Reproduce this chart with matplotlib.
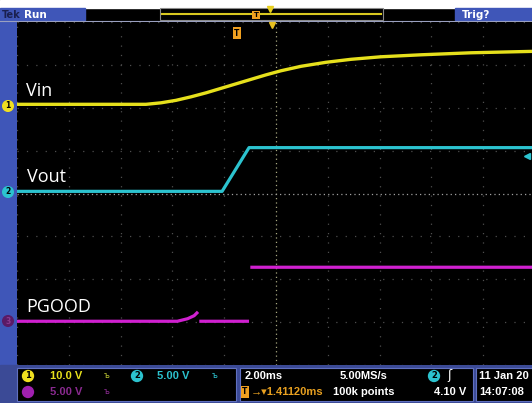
import numpy as np
import matplotlib.pyplot as plt
from matplotlib.patches import Rectangle

# time base / channel setup
t_center = 1.4112          # ms, horizontal delay
ms_per_div = 2.0
ch1_scale, ch1_pos = 10.0, 2.08   # V/div, divisions
ch2_scale, ch2_pos = 5.0, 0.05
ch3_scale, ch3_pos = 5.0, -2.98
trig_level = 4.10

# traces (time in ms, volts)
vin_t = [-8.6, -3.61, -3.03, -2.45, -1.87, -1.29, -0.71, -0.13, 0.45, 1.03, 1.60,
         2.38, 3.34, 4.31, 5.47, 7.01, 8.94, 11.45]
vin_v = [0.0, 0.0, 0.35, 0.93, 1.75, 2.68, 3.73, 4.78, 5.83, 6.88, 7.82,
         8.87, 9.8, 10.5, 11.09, 11.55, 12.02, 12.37]

vout_t = [-8.6, -0.67, 0.37, 11.5]
vout_v = [0.0, 0.0, 5.1, 5.1]

pg_t = [-8.6, -2.4, -2.0, -1.75, -1.6, np.nan, -1.55, 0.37, np.nan, 0.42, 11.5]
pg_v = [0.0, 0.0, 0.3, 0.65, 1.1, np.nan, 0.0, 0.0, np.nan, 6.3, 6.3]

W, H = 532, 403
fig = plt.figure(figsize=(W / 100, H / 100), dpi=100)
fig.patch.set_facecolor('black')

# background frame (pixel coordinates)
bg = fig.add_axes([0, 0, 1, 1], zorder=0)
bg.set_xlim(0, W)
bg.set_ylim(H, 0)
bg.axis('off')
blue = '#3f56b8'
frame = '#3b4a96'
bg.add_patch(Rectangle((0, 0), W, 8, color='white'))
bg.add_patch(Rectangle((0, 8), 85, 12, color=blue))
bg.add_patch(Rectangle((455, 8), 77, 12, color=blue))
bg.add_patch(Rectangle((160, 8), 223, 12, fc='black', ec='#8a8a8a', lw=0.8))
bg.add_patch(Rectangle((0, 20), 17, H - 20, color=blue))
bg.add_patch(Rectangle((0, 365), W, H - 365, color=frame))
bg.plot([0, W], [20.5, 20.5], color='#9aa0c0', lw=0.8)
for x0, x1 in [(17, 236), (240, 473), (476, 540)]:
    bg.add_patch(Rectangle((x0, 368), x1 - x0, 33, fc='black', ec='#6070c0', lw=0.8))
bg.plot([162, 381], [13.5, 13.5], color='#d8c820', lw=1.5)
bg.text(2, 14.5, 'Tek', color='#1a2050', fontsize=7, fontweight='bold', va='center')
bg.text(24, 14.5, 'Run', color='white', fontsize=7.5, fontweight='bold', va='center')
bg.text(462, 14.5, 'Trig?', color='white', fontsize=7.5, fontweight='bold', va='center')
bg.text(256, 15, 'T', color='black', fontsize=5, fontweight='bold', ha='center', va='center',
        bbox=dict(boxstyle='square,pad=0.15', fc='#f0a020', ec='none'))
bg.plot([270], [9], marker='v', color='#e8d020', ms=4)

# scope grid
rect = [17 / W, (H - 365) / H, (535 - 17) / W, (365 - 22) / H]
ax = fig.add_axes(rect, zorder=1)
ax.set_facecolor('black')
ax.set_xlim(t_center - 5 * ms_per_div, t_center + 5 * ms_per_div)
ax.set_ylim(-4, 4)
for k in range(-5, 6):
    if k != 0:
        ax.axvline(t_center + k * ms_per_div, color='#4e4e4e', lw=0.9, ls=(0, (1, 6.5)))
for k in range(-4, 5):
    if k != 0:
        ax.axhline(k, color='#4e4e4e', lw=0.9, ls=(0, (1, 6.5)))
ax.axvline(t_center, color='#a8a880', lw=0.9, ls=(0, (1, 2.5)))
ax.axhline(0, color='#a0a0a0', lw=0.9, ls=(0, (1, 2.5)))
for s in ax.spines.values():
    s.set_visible(False)
ax.set_xticks([])
ax.set_yticks([])


def channel_axes(scale, pos):
    a = fig.add_axes(rect, zorder=2, sharex=ax)
    a.set_facecolor('none')
    a.set_ylim((-4 - pos) * scale, (4 - pos) * scale)
    a.axis('off')
    return a


a1 = channel_axes(ch1_scale, ch1_pos)
a2 = channel_axes(ch2_scale, ch2_pos)
a3 = channel_axes(ch3_scale, ch3_pos)
a1.plot(vin_t, vin_v, color='#e6e01c', lw=2.4, solid_capstyle='butt', solid_joinstyle='round')
a2.plot(vout_t, vout_v, color='#2cc3cf', lw=2.3, solid_capstyle='butt')
a2.plot([t_center + 4.85 * ms_per_div], [trig_level], marker='<', color='#2cc3cf', ms=4, clip_on=False)
a3.plot(pg_t, pg_v, color='#d020d0', lw=2.3, solid_capstyle='butt')

# overlay texts and markers (pixel coordinates)
ov = fig.add_axes([0, 0, 1, 1], zorder=3)
ov.set_facecolor('none')
ov.set_xlim(0, W)
ov.set_ylim(H, 0)
ov.axis('off')
lab = dict(color='white', fontsize=13, family='Open Sans', va='baseline')
ov.text(26, 96, 'Vin', **lab)
ov.text(27, 182, 'Vout', **lab)
ov.text(26, 312, 'PGOOD', **lab)


def badge(x, y, s, fc, tc='black', size=5.5):
    ov.text(x, y, s, color=tc, fontsize=size, fontweight='bold', ha='center', va='center',
            bbox=dict(boxstyle='circle,pad=0.2', fc=fc, ec='none'))


badge(8, 106, '1', '#f0e020')
badge(8, 192, '2', '#2cc3cf')
badge(8, 321, '3', '#5a1a66', tc='#8a3a90')
ov.text(237, 33, 'T', color='black', fontsize=5.5, fontweight='bold', ha='center', va='center',
        bbox=dict(boxstyle='square,pad=0.15', fc='#f0a020', ec='none'))
ov.plot([272], [25], marker='v', color='#e8c020', ms=4)

# status bar
st = dict(fontsize=8, fontweight='bold', va='center', family=['Liberation Sans', 'DejaVu Sans'])
badge(28, 376, '1', '#f0e020', size=6)
ov.text(50, 376, '10.0 V', color='#e6e01c', **st)
ov.text(104, 376, 'ъ', color='#b8c030', fontsize=6, va='center')
badge(137, 376, '2', '#2cc3cf', size=6)
ov.text(157, 376, '5.00 V', color='#2cc3cf', **st)
ov.text(212, 376, 'ъ', color='#2cc3cf', fontsize=6, va='center')
badge(28, 392, '3', '#a020b0', tc='#a020b0', size=6)
ov.text(50, 392, '5.00 V', color='#8a2a90', **st)
ov.text(104, 392, 'ъ', color='#8a2a90', fontsize=6, va='center')

ov.text(245, 376, '2.00ms', color='white', **st)
ov.text(340, 376, '5.00MS/s', color='white', **st)
badge(434, 376, '2', '#2cc3cf', size=6)
ov.text(447, 376, 'ʃ', color='white', fontsize=9, va='center')
ov.text(245, 392, 'T', color='black', fontsize=5.5, fontweight='bold', ha='center', va='center',
        bbox=dict(boxstyle='square,pad=0.15', fc='#f0a020', ec='none'))
ov.text(251, 392, '\u2192\u25be1.41120ms', color='#e8a020', **st)
ov.text(333, 392, '100k points', color='white', **st)
ov.text(434, 392, '4.10 V', color='white', **st)
ov.text(479, 376, '11 Jan 20', color='white', **st)
ov.text(479, 392, '14:07:08', color='white', **st)

fig.savefig('out.png', dpi=100, facecolor=fig.get_facecolor())
